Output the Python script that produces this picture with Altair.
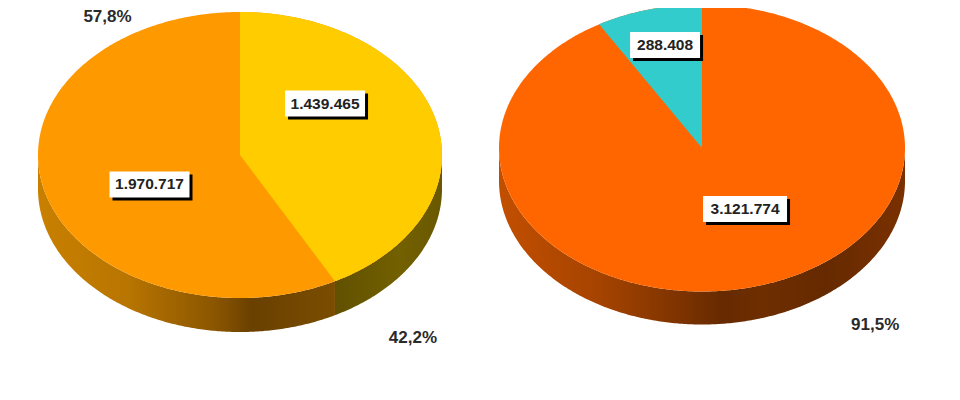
import numpy as np
import pandas as pd
import altair as alt

# Values
left_values = [1439465, 1970717]
right_values = [3121774, 288408]
left_value_labels = ["1.439.465", "1.970.717"]
right_value_labels = ["3.121.774", "288.408"]
left_pct_labels = ["42,2%", "57,8%"]
right_pct_labels = ["91,5%"]

W, H = 940, 380
OFF = 8  # page margin


def ell_x(p, a):
    return p["cx"] + p["rx"] * np.sin(a)


def ell_y(p, a):
    return p["cy"] - p["ry"] * np.cos(a)


def frac_angle(values, idx=0):
    return 2 * np.pi * values[idx] / sum(values)


LP = dict(cx=240 - OFF, cy=155 - OFF, rx=202, ry=143, d=34)
RP = dict(cx=702 - OFF, cy=148 - OFF, rx=203, ry=143.5, d=33)


def top_half(p, x):
    t = np.clip((x - p["cx"]) / p["rx"], -1, 1)
    return p["cy"] - p["ry"] * np.sqrt(1 - t * t)


def low_half(p, x):
    t = np.clip((x - p["cx"]) / p["rx"], -1, 1)
    return p["cy"] + p["ry"] * np.sqrt(1 - t * t)


def xs(p, a, b, n=160):
    # denser near the ellipse's ends so the outline stays round
    u = np.linspace(-np.pi / 2, np.pi / 2, 2 * n + 1)
    g = p["cx"] + p["rx"] * np.sin(u)
    g = g[(g >= a) & (g <= b)]
    return np.unique(np.concatenate([[a, b], g]))


def frame(x, y, y2):
    return pd.DataFrame({"x": x, "y": y, "y2": y2})


def area(df, color):
    return (
        alt.Chart(df)
        .mark_area(color=color, opacity=1, interpolate="linear")
        .encode(
            x=alt.X("x:Q", scale=alt.Scale(domain=[0, W], nice=False, zero=False), axis=None),
            y=alt.Y("y:Q", scale=alt.Scale(domain=[H, 0], nice=False, zero=False), axis=None),
            y2="y2:Q",
        )
    )


def grad(stops):
    return alt.Gradient(
        gradient="linear", x1=0, x2=1, y1=0, y2=0,
        stops=[alt.GradientStop(offset=o, color=c) for o, c in stops],
    )


def side(p, a, b, color):
    x = xs(p, a, b)
    return area(frame(x, low_half(p, x), low_half(p, x) + p["d"]), color)


def flat(p, color):
    x = xs(p, p["cx"] - p["rx"], p["cx"] + p["rx"])
    return area(frame(x, top_half(p, x), low_half(p, x)), color)


layers = []

# Left pie: yellow wedge runs clockwise from 12 o'clock on the right-hand side
ang = frac_angle(left_values)
sx, sy = ell_x(LP, ang), ell_y(LP, ang)
layers.append(side(LP, LP["cx"] - LP["rx"], sx, grad([(0, "#C98000"), (0.3, "#B87500"), (0.6, "#8A5500"), (0.72, "#6A4000"), (1, "#7A4D00")])))
layers.append(side(LP, sx, LP["cx"] + LP["rx"], grad([(0, "#615000"), (0.6, "#736000"), (1, "#6A5800")])))
layers.append(flat(LP, "#FF9900"))
x = xs(LP, LP["cx"], LP["cx"] + LP["rx"])
x = np.unique(np.concatenate([x, [sx]]))
lower = np.where(x <= sx, LP["cy"] + (sy - LP["cy"]) * (x - LP["cx"]) / (sx - LP["cx"]), low_half(LP, x))
layers.append(area(frame(x, top_half(LP, x), lower), "#FFCC00"))

# Right pie: teal wedge ends at 12 o'clock on the left-hand side
ang = frac_angle(right_values, 1)
sx, sy = RP["cx"] - RP["rx"] * np.sin(ang), RP["cy"] - RP["ry"] * np.cos(ang)
layers.append(side(RP, RP["cx"] - RP["rx"], RP["cx"] + RP["rx"], grad([(0, "#C24F00"), (0.25, "#A54300"), (0.45, "#7D3300"), (0.55, "#662A00"), (0.65, "#6E2E00"), (0.8, "#662A00"), (1, "#7A3000")])))
layers.append(flat(RP, "#FF6600"))
x = xs(RP, sx, RP["cx"])
x = np.unique(np.concatenate([x, [sx]]))
lower = RP["cy"] + (sy - RP["cy"]) * (x - RP["cx"]) / (sx - RP["cx"])
layers.append(area(frame(x, top_half(RP, x), lower), "#33CCCC"))


# Value boxes: centre as a fraction of the pie's radii
def boxes(p, rel, labels, half_w):
    cx = [p["cx"] + p["rx"] * r[0] for r in rel]
    cy = [p["cy"] + p["ry"] * r[1] for r in rel]
    return pd.DataFrame({"cx": cx, "cy": cy, "t": labels, "hw": half_w})


lab = pd.concat([
    boxes(LP, [(0.421, -0.36), (-0.448, 0.206)], left_value_labels, [40, 40]),
    boxes(RP, [(0.212, 0.425), (-0.182, -0.718)], right_value_labels, [42, 35]),
])
lab["x1"], lab["x2"] = lab.cx - lab.hw, lab.cx + lab.hw
lab["y1"], lab["y2"] = lab.cy - 13, lab.cy + 13
lab["sx1"], lab["sx2"] = lab.x1 + 3, lab.x2 + 3
lab["sy1"], lab["sy2"] = lab.y1 + 3, lab.y2 + 3

xscale = alt.Scale(domain=[0, W], nice=False, zero=False)
yscale = alt.Scale(domain=[H, 0], nice=False, zero=False)
shadow = alt.Chart(lab).mark_rect(color="#000000", opacity=1).encode(
    x=alt.X("sx1:Q", scale=xscale, axis=None), x2="sx2:Q",
    y=alt.Y("sy1:Q", scale=yscale, axis=None), y2="sy2:Q")
box = alt.Chart(lab).mark_rect(color="#FFFFFF", opacity=1).encode(
    x=alt.X("x1:Q", scale=xscale, axis=None), x2="x2:Q",
    y=alt.Y("y1:Q", scale=yscale, axis=None), y2="y2:Q")
txt = alt.Chart(lab).mark_text(font="Liberation Sans", fontWeight="bold", fontSize=15.5, color="#222222", align="center", baseline="middle").encode(
    x=alt.X("cx:Q", scale=xscale, axis=None),
    y=alt.Y("cy:Q", scale=yscale, axis=None),
    text="t:N")

pct = pd.DataFrame({
    "x": [LP["cx"] + LP["rx"] * 0.856, RP["cx"] + RP["rx"] * 0.853, LP["cx"] - LP["rx"] * 0.656],
    "y": [LP["cy"] + LP["ry"] * 1.28, RP["cy"] + RP["ry"] * 1.23, 9],
    "t": [left_pct_labels[0], right_pct_labels[0], left_pct_labels[1]],
})
pct_txt = alt.Chart(pct).mark_text(font="Liberation Sans", fontWeight="bold", fontSize=17, color="#2A2A2A", align="center", baseline="middle").encode(
    x=alt.X("x:Q", scale=xscale, axis=None),
    y=alt.Y("y:Q", scale=yscale, axis=None),
    text="t:N")

chart = (
    alt.layer(*layers, shadow, box, txt, pct_txt)
    .properties(width=W, height=H, padding=0, autosize=alt.AutoSizeParams(type="none"), background="#FFFFFF")
    .configure_view(stroke=None)
)

chart.save("out.html", embed_options={"renderer": "svg", "actions": False})
